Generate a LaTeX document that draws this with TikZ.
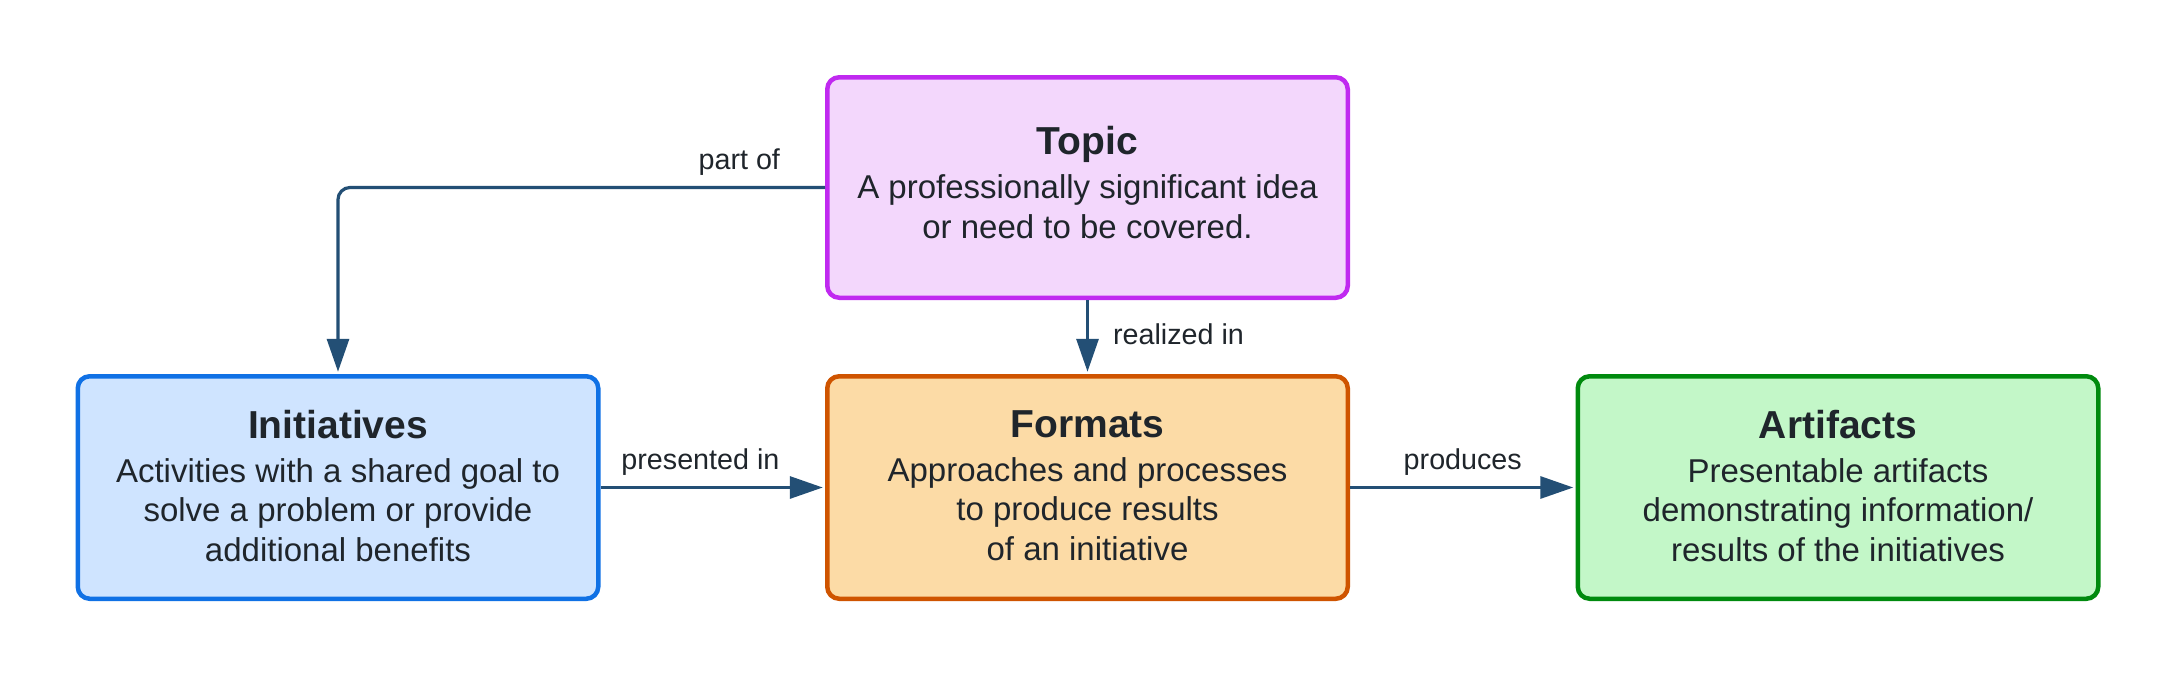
\documentclass[tikz,border=0pt]{standalone}
\usepackage{fontspec}
\setmainfont{Liberation Sans}
\usetikzlibrary{arrows.meta}
\definecolor{txt}{HTML}{1F252B}
\definecolor{arrowc}{HTML}{234F75}
\definecolor{topicF}{HTML}{F3D7FC}
\definecolor{topicB}{HTML}{C029F0}
\definecolor{initF}{HTML}{CFE4FF}
\definecolor{initB}{HTML}{1071E5}
\definecolor{formF}{HTML}{FCDBA6}
\definecolor{formB}{HTML}{CF5400}
\definecolor{artF}{HTML}{C3F7C8}
\definecolor{artB}{HTML}{008A0E}
\newcommand\boxtitle[1]{{\fontsize{39}{44}\selectfont\bfseries #1}\\[4.5pt]}
\begin{document}
\begin{tikzpicture}[x=1pt,y=-1pt,
  box/.style={rectangle, rounded corners=12pt, line width=4.5pt, minimum width=520.5pt,
    minimum height=222.5pt, inner sep=0pt, align=center, text=txt,
    font=\fontsize{33}{39.5}\selectfont},
  conn/.style={draw=arrowc, line width=3.2pt, -{Triangle[length=33pt,width=22pt]}, shorten >=2.25pt},
  lbl/.style={inner sep=0pt, text=txt, font=\fontsize{28.7}{34}\selectfont}]
\fill[white] (0,0) rectangle (2175,675);
\path[use as bounding box] (0,0) rectangle (2175,675);

\node[box, draw=topicB, fill=topicF, minimum height=220.5pt, text depth=10pt] (topic) at (1087.5,187.5)
  {\boxtitle{Topic}A professionally significant idea\\or need to be covered.};
\node[box, draw=initB, fill=initF, text depth=4pt] (init) at (338,487.5)
  {\boxtitle{Initiatives}Activities with a shared goal to\\solve a problem or provide\\additional benefits};
\node[box, draw=formB, fill=formF, text depth=4pt] (formats) at (1087.5,487.5)
  {\boxtitle{Formats}Approaches and processes\\to produce results\\of an initiative};
\node[box, draw=artB, fill=artF, text depth=4pt] (art) at (1838,487.5)
  {\boxtitle{Artifacts}Presentable artifacts\\demonstrating information/\\results of the initiatives};

\draw[conn, rounded corners=12pt] (topic.west) -| node[lbl, pos=0.088, yshift=25pt] {part of} (init.north);
\draw[conn] (topic.south) -- node[lbl, pos=0.46, anchor=west, xshift=24pt] {realized in} (formats.north);
\draw[conn] (init.east) -- node[lbl, pos=0.445, yshift=25pt] {presented in} (formats.west);
\draw[conn] (formats.east) -- node[lbl, pos=0.5, yshift=25pt] {produces} (art.west);
\end{tikzpicture}
\end{document}
